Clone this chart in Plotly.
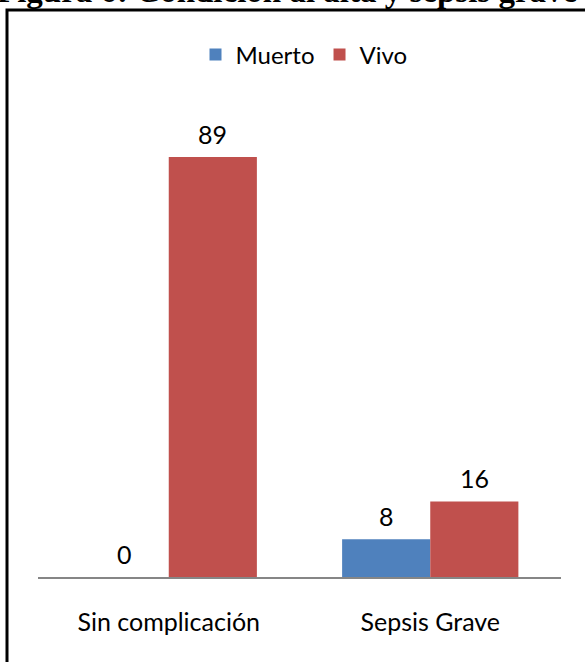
import plotly.graph_objects as go

categories = ["Sin complicación", "Sepsis Grave"]
muerto = [0, 8]
vivo = [89, 16]
series_names = ["Muerto", "Vivo"]
title_text = "Figura 6: Condición al alta y sepsis grave"

W, H = 585, 662
ml, mr, mt, mb = 38, 24, 105, 85
pw = W - ml - mr
ph = H - mt - mb
ymax = 100
bargap = 0.326

def px_to_paper_x(px):
    return (px - ml) / pw

def px_to_paper_y(py):
    return (H - mb - py) / ph

font_fam = "Lato"
fig = go.Figure()
fig.add_trace(go.Bar(name=series_names[0], x=categories, y=muerto,
                     marker=dict(color="#4F81BD", line=dict(width=0))))
fig.add_trace(go.Bar(name=series_names[1], x=categories, y=vivo,
                     marker=dict(color="#C0504D", line=dict(width=0))))

annotations = []
bar_half = pw / len(categories) * (1 - bargap) / 4
for vals, shift in ((muerto, -bar_half), (vivo, bar_half)):
    for c, v in zip(categories, vals):
        annotations.append(dict(x=c, y=v, xref="x", yref="y", text=str(v),
                                showarrow=False, xshift=shift, yshift=23,
                                yanchor="middle",
                                font=dict(family=font_fam, size=25, color="black")))

annotations.append(dict(text="<b>" + title_text + "</b>", xref="paper", yref="paper",
                        x=px_to_paper_x(-5), y=px_to_paper_y(11), xanchor="left",
                        yanchor="bottom", showarrow=False,
                        font=dict(family="Liberation Serif", size=33, color="black")))

fig.update_layout(
    width=W, height=H,
    margin=dict(l=ml, r=mr, t=mt, b=mb),
    paper_bgcolor="white", plot_bgcolor="white",
    barmode="group", bargap=bargap, bargroupgap=0,
    showlegend=True,
    legend=dict(orientation="h", x=px_to_paper_x(304), xanchor="center",
                y=px_to_paper_y(55), yanchor="middle",
                font=dict(family=font_fam, size=24, color="black"),
                bgcolor="rgba(0,0,0,0)"),
    xaxis=dict(showline=True, linecolor="#868686", linewidth=2, ticks="",
               showgrid=False, zeroline=False,
               tickfont=dict(family=font_fam, size=25, color="black"),
               ticklabelstandoff=22),
    yaxis=dict(range=[0, ymax], visible=False, showgrid=False, zeroline=False),
    annotations=annotations,
    shapes=[dict(type="rect", xref="paper", yref="paper",
                 x0=px_to_paper_x(7), x1=px_to_paper_x(600),
                 y0=px_to_paper_y(700), y1=px_to_paper_y(10),
                 line=dict(color="black", width=3), fillcolor="rgba(0,0,0,0)")],
)

fig.write_html("out.html")
